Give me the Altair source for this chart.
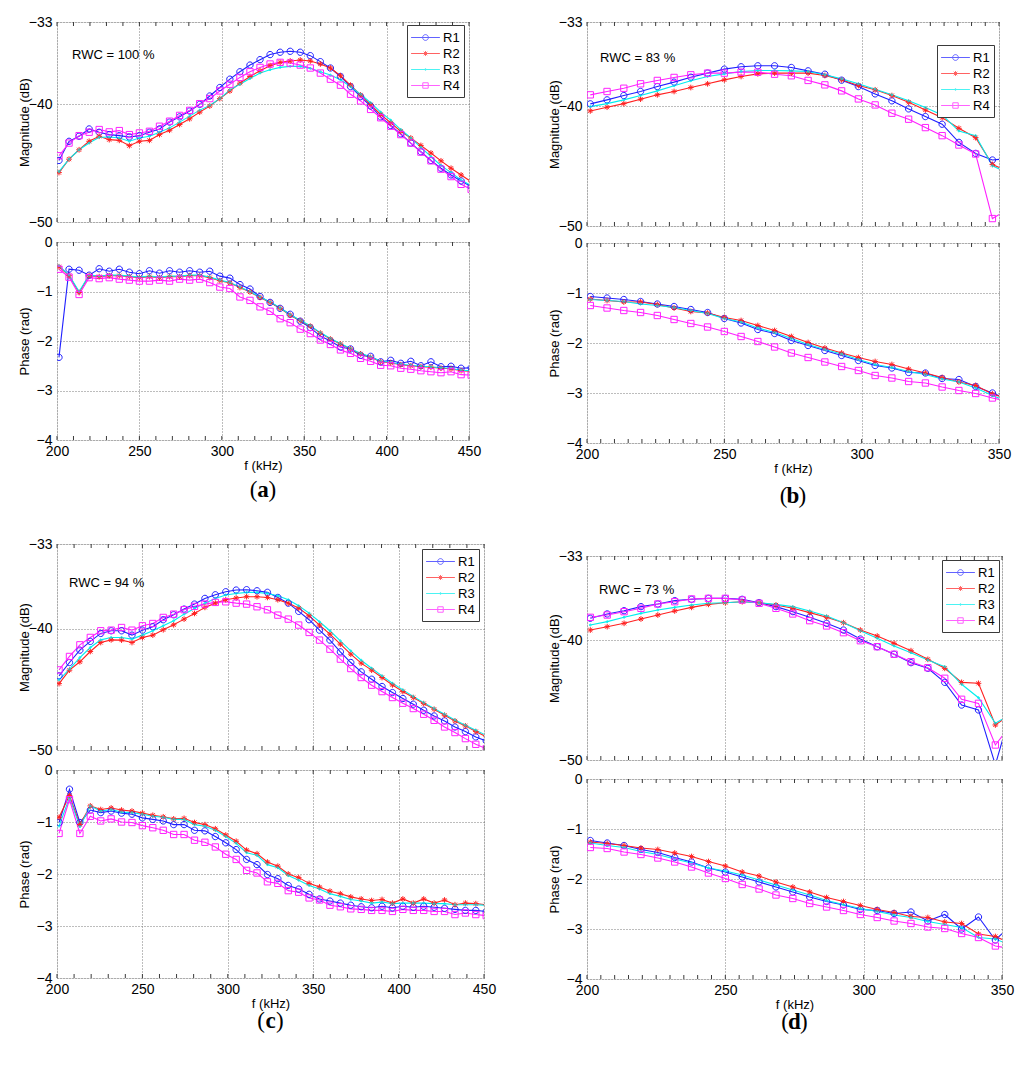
import altair as alt
import pandas as pd

FONT = "Liberation Sans"
SERIF = "Liberation Serif"
FRAME = "#3a3a3a"
GRID = "#7a7a7a"

SERIES = ["R1", "R2", "R3", "R4"]
COLORS = ["#2020ff", "#ff2020", "#00eeee", "#ff20ff"]

# measurement frequencies (kHz)
FREQ = [201.2, 207.3, 213.4, 219.5, 225.6, 231.7, 237.8, 243.9, 250.0, 256.1,
        262.2, 268.3, 274.4, 280.5, 286.6, 292.7, 298.8, 304.9, 311.0, 317.1,
        323.2, 329.3, 335.4, 341.5, 347.6, 353.7, 359.8, 365.9, 372.0, 378.1,
        384.2, 390.3, 396.4, 402.5, 408.6, 414.7, 420.8, 426.9, 433.0, 439.1,
        445.2, 451.3]
FREQ_B = FREQ[:26]

# ---------------- (a) RWC = 100 % ----------------
A_MAG_R1 = [-44.77, -43.14, -42.71, -42.09, -42.37, -42.57, -42.66, -42.77, -42.66, -42.37,
            -42.09, -41.51, -41.06, -40.57, -40.0, -39.29, -38.57, -37.86, -37.23, -36.66,
            -36.2, -35.77, -35.57, -35.49, -35.57, -35.86, -36.37, -36.91, -37.63, -38.49,
            -39.34, -40.14, -41.06, -41.8, -42.51, -43.29, -44.03, -44.77, -45.43, -46.0,
            -46.51, -47.0]
A_MAG_R2 = [-45.8, -44.66, -43.86, -43.14, -42.71, -43.0, -43.06, -43.51, -43.14, -43.06,
            -42.57, -42.2, -41.71, -41.23, -40.66, -40.14, -39.51, -38.86, -38.2, -37.63,
            -37.14, -36.71, -36.43, -36.31, -36.23, -36.31, -36.57, -36.91, -37.57, -38.37,
            -39.2, -40.03, -40.86, -41.57, -42.29, -42.86, -43.49, -44.14, -44.8, -45.43,
            -46.0, -46.57]
A_MAG_R3 = [-45.71, -44.66, -43.86, -43.29, -42.8, -42.77, -42.86, -43.14, -42.86, -42.71,
            -42.37, -42.0, -41.51, -41.0, -40.49, -40.09, -39.51, -38.77, -38.29, -37.8,
            -37.34, -37.06, -36.86, -36.77, -36.77, -36.94, -37.23, -37.51, -37.91, -38.49,
            -39.14, -39.86, -40.66, -41.34, -42.14, -42.86, -43.66, -44.43, -45.2, -45.8,
            -46.43, -46.91]
A_MAG_R4 = [-44.37, -43.29, -42.66, -42.37, -42.14, -42.34, -42.23, -42.57, -42.43, -42.29,
            -41.86, -41.43, -40.94, -40.51, -39.94, -39.51, -38.86, -38.29, -37.71, -37.23,
            -36.86, -36.57, -36.43, -36.49, -36.66, -36.91, -37.34, -37.86, -38.37, -39.14,
            -39.71, -40.43, -41.14, -41.86, -42.57, -43.29, -44.06, -44.8, -45.51, -46.14,
            -46.8, -47.23]
A_PH_R1 = [-2.33, -0.55, -0.57, -0.67, -0.54, -0.59, -0.55, -0.61, -0.64, -0.58,
           -0.63, -0.58, -0.61, -0.58, -0.61, -0.59, -0.69, -0.73, -0.86, -0.95,
           -1.1, -1.22, -1.34, -1.46, -1.6, -1.73, -1.9, -2.0, -2.12, -2.16,
           -2.29, -2.31, -2.42, -2.39, -2.45, -2.41, -2.5, -2.42, -2.52, -2.51,
           -2.55, -2.54]
A_PH_R2 = [-0.5, -0.68, -1.02, -0.68, -0.7, -0.68, -0.68, -0.7, -0.72, -0.7,
           -0.72, -0.7, -0.7, -0.68, -0.68, -0.72, -0.78, -0.83, -0.92, -1.01,
           -1.12, -1.22, -1.34, -1.48, -1.59, -1.7, -1.84, -1.96, -2.06, -2.16,
           -2.26, -2.33, -2.42, -2.44, -2.48, -2.5, -2.52, -2.53, -2.55, -2.56,
           -2.6, -2.61]
A_PH_R3 = [-0.48, -0.67, -1.0, -0.67, -0.69, -0.67, -0.67, -0.69, -0.71, -0.69,
           -0.71, -0.69, -0.69, -0.67, -0.67, -0.71, -0.77, -0.82, -0.91, -1.0,
           -1.11, -1.21, -1.33, -1.47, -1.58, -1.69, -1.83, -1.95, -2.05, -2.15,
           -2.25, -2.32, -2.41, -2.43, -2.47, -2.49, -2.51, -2.52, -2.54, -2.55,
           -2.59, -2.6]
A_PH_R4 = [-0.55, -0.71, -1.06, -0.72, -0.74, -0.72, -0.75, -0.77, -0.79, -0.79,
           -0.77, -0.79, -0.75, -0.77, -0.75, -0.82, -0.91, -0.94, -1.11, -1.18,
           -1.31, -1.4, -1.55, -1.63, -1.76, -1.85, -1.98, -2.07, -2.18, -2.25,
           -2.35, -2.41, -2.49, -2.5, -2.55, -2.57, -2.6, -2.62, -2.64, -2.62,
           -2.68, -2.69]

# ---------------- (b) RWC = 83 % ----------------
B_MAG_R1 = [-39.82, -39.49, -39.13, -38.79, -38.38, -38.01, -37.6, -37.26, -36.93, -36.73,
            -36.65, -36.65, -36.79, -37.07, -37.35, -37.85, -38.38, -38.99, -39.57, -40.24,
            -40.88, -41.52, -43.03, -43.95, -44.5, -44.37]
B_MAG_R2 = [-40.41, -40.1, -39.8, -39.43, -39.07, -38.79, -38.46, -38.15, -37.82, -37.54,
            -37.32, -37.26, -37.26, -37.26, -37.46, -37.82, -38.29, -38.65, -39.13, -39.69,
            -40.33, -40.97, -41.86, -42.64, -44.87, -45.48]
B_MAG_R3 = [-40.05, -39.8, -39.49, -39.13, -38.74, -38.32, -37.9, -37.54, -37.32, -37.12,
            -37.04, -37.04, -37.07, -37.12, -37.4, -37.74, -38.15, -38.6, -39.07, -39.57,
            -40.13, -40.74, -42.08, -42.47, -44.98, -45.62]
B_MAG_R4 = [-39.07, -38.79, -38.52, -38.15, -37.87, -37.62, -37.4, -37.26, -37.26, -37.18,
            -37.18, -37.35, -37.48, -37.87, -38.24, -38.74, -39.41, -39.91, -40.6, -41.1,
            -41.8, -42.47, -43.25, -44.0, -49.38, -48.54]
B_PH_R1 = [-1.07, -1.1, -1.13, -1.17, -1.22, -1.27, -1.33, -1.39, -1.51, -1.6,
           -1.73, -1.81, -1.95, -2.05, -2.15, -2.25, -2.35, -2.45, -2.5, -2.59,
           -2.6, -2.71, -2.73, -2.87, -3.0, -3.13]
B_PH_R2 = [-1.12, -1.15, -1.18, -1.18, -1.23, -1.3, -1.37, -1.4, -1.49, -1.55,
           -1.65, -1.75, -1.87, -1.99, -2.1, -2.2, -2.29, -2.37, -2.43, -2.52,
           -2.6, -2.69, -2.78, -2.85, -3.02, -3.13]
B_PH_R3 = [-1.13, -1.15, -1.17, -1.22, -1.25, -1.29, -1.35, -1.41, -1.51, -1.58,
           -1.7, -1.79, -1.91, -2.03, -2.13, -2.22, -2.33, -2.43, -2.49, -2.57,
           -2.63, -2.72, -2.78, -2.9, -3.05, -3.18]
B_PH_R4 = [-1.25, -1.3, -1.35, -1.39, -1.45, -1.53, -1.61, -1.68, -1.77, -1.87,
           -1.97, -2.08, -2.2, -2.29, -2.38, -2.47, -2.55, -2.65, -2.7, -2.77,
           -2.8, -2.88, -2.95, -3.01, -3.1, -3.17]

# ---------------- (c) RWC = 94 % ----------------
C_MAG_R1 = [-43.88, -42.78, -41.76, -41.04, -40.38, -40.16, -40.16, -40.52, -40.11, -39.83,
            -39.25, -38.84, -38.37, -37.96, -37.49, -37.19, -36.94, -36.8, -36.77, -36.86,
            -36.99, -37.41, -37.88, -38.56, -39.25, -40.11, -40.93, -41.9, -42.78, -43.55,
            -44.16, -44.76, -45.26, -45.75, -46.22, -46.72, -47.19, -47.6, -48.1, -48.48,
            -48.92, -49.25]
C_MAG_R2 = [-44.52, -43.41, -42.72, -41.87, -41.13, -40.91, -40.93, -41.13, -40.71, -40.52,
            -40.08, -39.67, -39.2, -38.73, -38.23, -37.88, -37.6, -37.46, -37.35, -37.35,
            -37.41, -37.6, -37.88, -38.29, -38.92, -39.69, -40.44, -41.26, -42.09, -42.83,
            -43.41, -44.02, -44.63, -45.18, -45.67, -46.17, -46.64, -47.13, -47.6, -48.01,
            -48.48, -48.9]
C_MAG_R3 = [-44.21, -43.33, -42.37, -41.54, -40.91, -40.71, -40.71, -40.85, -40.52, -40.16,
            -39.75, -39.34, -38.79, -38.32, -37.88, -37.49, -37.21, -37.08, -36.99, -36.99,
            -37.08, -37.27, -37.6, -38.1, -38.7, -39.42, -40.16, -40.99, -41.82, -42.59,
            -43.25, -43.88, -44.49, -45.04, -45.59, -46.09, -46.58, -47.05, -47.52, -47.96,
            -48.37, -48.79]
C_MAG_R4 = [-43.39, -42.28, -41.32, -40.71, -40.16, -40.11, -39.89, -40.11, -39.75, -39.56,
            -39.06, -38.79, -38.42, -38.15, -37.96, -37.82, -37.77, -37.88, -37.96, -38.18,
            -38.43, -38.87, -39.2, -39.69, -40.3, -40.93, -41.68, -42.5, -43.28, -44.02,
            -44.65, -45.18, -45.67, -46.14, -46.58, -47.05, -47.55, -48.1, -48.56, -49.06,
            -49.53, -49.89]
C_PH_R1 = [-1.01, -0.37, -1.01, -0.77, -0.82, -0.79, -0.83, -0.85, -0.92, -0.95,
           -0.98, -1.05, -1.05, -1.16, -1.17, -1.28, -1.4, -1.53, -1.72, -1.82,
           -2.01, -2.09, -2.22, -2.29, -2.39, -2.48, -2.52, -2.56, -2.6, -2.63,
           -2.65, -2.62, -2.65, -2.62, -2.64, -2.62, -2.64, -2.66, -2.68, -2.7,
           -2.7, -2.72]
C_PH_R2 = [-0.91, -0.49, -1.05, -0.69, -0.76, -0.73, -0.77, -0.79, -0.83, -0.87,
           -0.9, -0.94, -0.93, -1.01, -1.05, -1.13, -1.25, -1.37, -1.54, -1.61,
           -1.77, -1.85, -2.0, -2.07, -2.18, -2.25, -2.33, -2.38, -2.44, -2.48,
           -2.51, -2.49, -2.56, -2.48, -2.56, -2.48, -2.56, -2.5, -2.59, -2.56,
           -2.57, -2.59]
C_PH_R3 = [-1.08, -0.53, -1.09, -0.69, -0.79, -0.76, -0.81, -0.82, -0.85, -0.89,
           -0.91, -0.95, -0.95, -1.05, -1.08, -1.16, -1.28, -1.41, -1.59, -1.64,
           -1.82, -1.88, -2.03, -2.12, -2.22, -2.29, -2.38, -2.43, -2.49, -2.52,
           -2.56, -2.54, -2.57, -2.56, -2.56, -2.56, -2.57, -2.57, -2.59, -2.59,
           -2.59, -2.6]
C_PH_R4 = [-1.22, -0.57, -1.22, -0.89, -0.98, -0.94, -1.0, -1.01, -1.07, -1.11,
           -1.16, -1.24, -1.24, -1.35, -1.39, -1.48, -1.62, -1.72, -1.93, -1.98,
           -2.15, -2.18, -2.32, -2.35, -2.46, -2.5, -2.6, -2.63, -2.67, -2.68,
           -2.7, -2.7, -2.72, -2.68, -2.7, -2.7, -2.72, -2.72, -2.78, -2.75,
           -2.78, -2.8]

# ---------------- (d) RWC = 73 % ----------------
D_MAG_R1 = [-38.19, -37.83, -37.56, -37.22, -37.0, -36.72, -36.61, -36.53, -36.53, -36.61,
            -36.89, -37.22, -37.64, -38.11, -38.61, -39.17, -39.92, -40.56, -41.19, -41.89,
            -42.36, -43.53, -45.42, -45.83, -50.4, -45.5]
D_MAG_R2 = [-39.17, -38.89, -38.61, -38.25, -37.92, -37.58, -37.28, -37.03, -36.89, -36.81,
            -36.89, -37.08, -37.36, -37.72, -38.11, -38.56, -39.17, -39.67, -40.28, -40.89,
            -41.61, -42.36, -43.53, -43.61, -47.08, -46.11]
D_MAG_R3 = [-38.75, -38.47, -38.11, -37.78, -37.5, -37.28, -37.08, -36.94, -36.89, -36.81,
            -36.89, -37.03, -37.22, -37.58, -38.0, -38.56, -39.22, -39.86, -40.5, -41.06,
            -41.67, -42.22, -43.69, -44.81, -46.94, -46.11]
D_MAG_R4 = [-38.11, -37.92, -37.64, -37.36, -37.0, -36.81, -36.58, -36.53, -36.53, -36.67,
            -36.94, -37.36, -37.83, -38.39, -38.83, -39.39, -40.06, -40.56, -41.19, -41.81,
            -42.31, -43.19, -44.94, -45.28, -48.75, -46.94]
D_PH_R1 = [-1.23, -1.28, -1.33, -1.41, -1.47, -1.57, -1.66, -1.78, -1.86, -1.96,
           -2.06, -2.16, -2.26, -2.36, -2.45, -2.52, -2.61, -2.63, -2.69, -2.66,
           -2.84, -2.71, -3.0, -2.76, -3.22, -2.9]
D_PH_R2 = [-1.26, -1.29, -1.33, -1.38, -1.41, -1.48, -1.55, -1.65, -1.74, -1.86,
           -1.94, -2.06, -2.16, -2.26, -2.37, -2.45, -2.53, -2.61, -2.67, -2.75,
           -2.77, -2.86, -2.89, -3.1, -3.15, -3.3]
D_PH_R3 = [-1.28, -1.33, -1.37, -1.45, -1.51, -1.6, -1.68, -1.78, -1.84, -1.92,
           -2.02, -2.12, -2.22, -2.32, -2.43, -2.51, -2.59, -2.65, -2.72, -2.77,
           -2.85, -2.91, -2.97, -3.17, -3.2, -3.34]
D_PH_R4 = [-1.37, -1.39, -1.46, -1.51, -1.58, -1.66, -1.76, -1.88, -1.99, -2.11,
           -2.2, -2.32, -2.39, -2.49, -2.56, -2.63, -2.71, -2.77, -2.84, -2.89,
           -2.96, -2.99, -3.09, -3.17, -3.34, -3.4]

X_TICKS_WIDE = [200, 250, 300, 350, 400, 450]
X_TICKS_NARROW = [200, 250, 300, 350]
MINOR_WIDE = list(range(200, 451, 10))
MINOR_NARROW = list(range(200, 351, 5))
MAG_TICKS = [-33, -40, -50]
PH_TICKS = [0, -1, -2, -3, -4]

# marker glyphs (open circle, asterisk, dot, open square)
MARKERS = [
    "M1,0A1,1 0 1,1 -1,0A1,1 0 1,1 1,0Z",
    "M-0.9,0H0.9M0,-0.9V0.9M-0.64,-0.64L0.64,0.64M-0.64,0.64L0.64,-0.64",
    "M0.3,0A0.3,0.3 0 1,1 -0.3,0A0.3,0.3 0 1,1 0.3,0Z",
    "M-1,-1H1V1H-1Z",
]
LEGEND_SYMBOLS = [
    "M-1.8,0H1.8M0.36,0A0.36,0.36 0 1,1 -0.36,0A0.36,0.36 0 1,1 0.36,0Z",
    "M-1.8,0H1.8M0,-0.3V0.3M-0.22,-0.22L0.22,0.22M-0.22,0.22L0.22,-0.22",
    "M-1.8,0H1.8M0.1,0A0.1,0.1 0 1,1 -0.1,0A0.1,0.1 0 1,1 0.1,0Z",
    "M-1.8,0H1.8M-0.34,-0.34H0.34V0.34H-0.34Z",
]


def long_df(freqs, arrays):
    rows = []
    for s, vals in zip(SERIES, arrays):
        for f, v in zip(freqs, vals):
            rows.append({"f": f, "v": v, "s": s})
    return pd.DataFrame(rows)


def subplot(df, xmax, xvals, minor, ydom, yvals, ytitle, w, h, show_x,
            rwc=None, rwc_pos=None, legend_y=None, legend_x=None, letter=None, letter_dy=50,
            top_extra=None):
    xaxis = alt.Axis(values=xvals, labels=show_x, title="f (kHz)" if show_x else None,
                     ticks=False, domain=False, grid=True, gridColor=GRID, gridDash=[1, 2],
                     gridWidth=1, labelFontSize=14, labelFont=FONT, labelColor="black",
                     labelPadding=4, labelFlush=False, labelOverlap=False,
                     titleFont=FONT, titleFontSize=13, titleFontWeight="normal",
                     titleColor="black", titlePadding=1)
    yaxis = alt.Axis(values=yvals, title=ytitle, ticks=False, domain=False, grid=True,
                     gridColor=GRID, gridDash=[1, 2], gridWidth=1, labelFontSize=14,
                     labelFont=FONT, labelColor="black", labelPadding=5, labelFlush=False,
                     labelOverlap=False, titleFont=FONT, titleFontSize=13,
                     titleFontWeight="normal", titleColor="black", titleX=-26,
                     titleAngle=270, titleBaseline="bottom")
    xenc = alt.X("f:Q", scale=alt.Scale(domain=[200, xmax], nice=False, zero=False), axis=xaxis)
    yenc = alt.Y("v:Q", scale=alt.Scale(domain=ydom, nice=False, zero=False), axis=yaxis)
    cenc = alt.Color("s:N", scale=alt.Scale(domain=SERIES, range=COLORS), legend=None)

    lines = alt.Chart(df).mark_line(clip=True, strokeWidth=1.1).encode(x=xenc, y=yenc, color=cenc)
    points = alt.Chart(df).mark_point(clip=True, filled=False, strokeWidth=1, size=40, opacity=1).encode(
        x=xenc, y=yenc, color=cenc,
        shape=alt.Shape("s:N", scale=alt.Scale(domain=SERIES, range=MARKERS), legend=None))
    tdf = pd.DataFrame({"f": minor})
    t_top = alt.Chart(tdf).mark_rule(color=FRAME, strokeWidth=1).encode(
        x=xenc, y=alt.value(0), y2=alt.value(4))
    t_bot = alt.Chart(tdf).mark_rule(color=FRAME, strokeWidth=1).encode(
        x=xenc, y=alt.value(h), y2=alt.value(h - 4))
    layers = [lines, points, t_top, t_bot]

    if top_extra is not None:
        # blank spacer text that only enlarges the panel's top bound
        layers.append(alt.Chart(pd.DataFrame({"k": [0]})).mark_text(
            text=" ", fontSize=2, baseline="bottom", align="left").encode(
            x=alt.value(0), y=alt.value(-top_extra)))
    if rwc is not None:
        layers.append(alt.Chart(pd.DataFrame({"t": [rwc]})).mark_text(
            align="left", baseline="middle", font=FONT, fontSize=13, color="black").encode(
            x=alt.value(rwc_pos[0]), y=alt.value(rwc_pos[1]), text="t:N"))
    if legend_y is not None:
        leg = alt.Legend(orient="none", legendX=legend_x, legendY=legend_y, title=None,
                         fillColor="white", strokeColor=FRAME, padding=4, rowPadding=0,
                         symbolSize=256, symbolStrokeWidth=1, symbolOffset=6,
                         labelOffset=9, labelFont=FONT, labelFontSize=13, labelColor="black")
        layers.append(alt.Chart(pd.DataFrame({"L": SERIES})).mark_point(
            clip=True, filled=False, strokeWidth=1).encode(
            x=alt.value(-100), y=alt.value(-100),
            color=alt.Color("L:N", scale=alt.Scale(domain=SERIES, range=COLORS), legend=leg),
            shape=alt.Shape("L:N", scale=alt.Scale(domain=SERIES, range=LEGEND_SYMBOLS), legend=leg)))
    if letter is not None:
        one = pd.DataFrame({"k": [0]})
        cx = w / 2
        cy = h + letter_dy
        layers.append(alt.Chart(one).mark_text(text="(", font=SERIF, fontSize=23, align="right",
                                               baseline="middle", color="black").encode(
            x=alt.value(cx - 5.5), y=alt.value(cy)))
        layers.append(alt.Chart(one).mark_text(text=letter, font=SERIF, fontSize=23, fontWeight="bold",
                                               align="center", baseline="middle", color="black").encode(
            x=alt.value(cx), y=alt.value(cy)))
        layers.append(alt.Chart(one).mark_text(text=")", font=SERIF, fontSize=23, align="left",
                                               baseline="middle", color="black").encode(
            x=alt.value(cx + 5.5), y=alt.value(cy)))

    return alt.layer(*layers).resolve_scale(color="independent", shape="independent").properties(
        width=w, height=h)


def panel(freqs, mags, phs, xmax, xvals, minor, w, hm, hp, sp, rwc, rwc_pos, legend_y, legend_x,
          letter, letter_dy, top_extra=None):
    mag = subplot(long_df(freqs, mags), xmax, xvals, minor, [-50, -33], MAG_TICKS,
                  "Magnitude (dB)", w, hm, False, rwc=rwc, rwc_pos=rwc_pos,
                  legend_y=legend_y, legend_x=legend_x, top_extra=top_extra)
    ph = subplot(long_df(freqs, phs), xmax, xvals, minor, [-4, 0], PH_TICKS,
                 "Phase (rad)", w, hp, True, letter=letter, letter_dy=letter_dy)
    return alt.vconcat(mag, ph, spacing=sp)


pa = panel(FREQ, [A_MAG_R1, A_MAG_R2, A_MAG_R3, A_MAG_R4], [A_PH_R1, A_PH_R2, A_PH_R3, A_PH_R4],
           450, X_TICKS_WIDE, MINOR_WIDE, 412, 200, 198, 4, "RWC = 100 %", (15, 33), 3, 412 - 62,
           "a", 50, top_extra=9)
pb = panel(FREQ_B, [B_MAG_R1, B_MAG_R2, B_MAG_R3, B_MAG_R4], [B_PH_R1, B_PH_R2, B_PH_R3, B_PH_R4],
           350, X_TICKS_NARROW, MINOR_NARROW, 412, 204, 200, 1, "RWC = 83 %", (13, 36), 23, 412 - 62,
           "b", 53)
pc = panel(FREQ, [C_MAG_R1, C_MAG_R2, C_MAG_R3, C_MAG_R4], [C_PH_R1, C_PH_R2, C_PH_R3, C_PH_R4],
           450, X_TICKS_WIDE, MINOR_WIDE, 427, 206, 208, 4, "RWC = 94 %", (12, 39), 5, 427 - 62,
           "c", 43)
pd_ = panel(FREQ_B, [D_MAG_R1, D_MAG_R2, D_MAG_R3, D_MAG_R4], [D_PH_R1, D_PH_R2, D_PH_R3, D_PH_R4],
            350, X_TICKS_NARROW, MINOR_NARROW, 415, 204, 200, 3, "RWC = 73 %", (12, 34), 4, 415 - 60,
            "d", 43)

left = alt.vconcat(pa, pc, spacing=33)
right = alt.vconcat(pb, pd_, spacing=39)

chart = alt.concat(left, right, columns=2, spacing=50, align="none").properties(
    padding={"left": 9, "top": 2, "right": 0, "bottom": 0}
).configure_view(stroke=FRAME, strokeWidth=1).configure(background="white")

chart.save("out.html", embed_options={"renderer": "svg", "actions": False})
